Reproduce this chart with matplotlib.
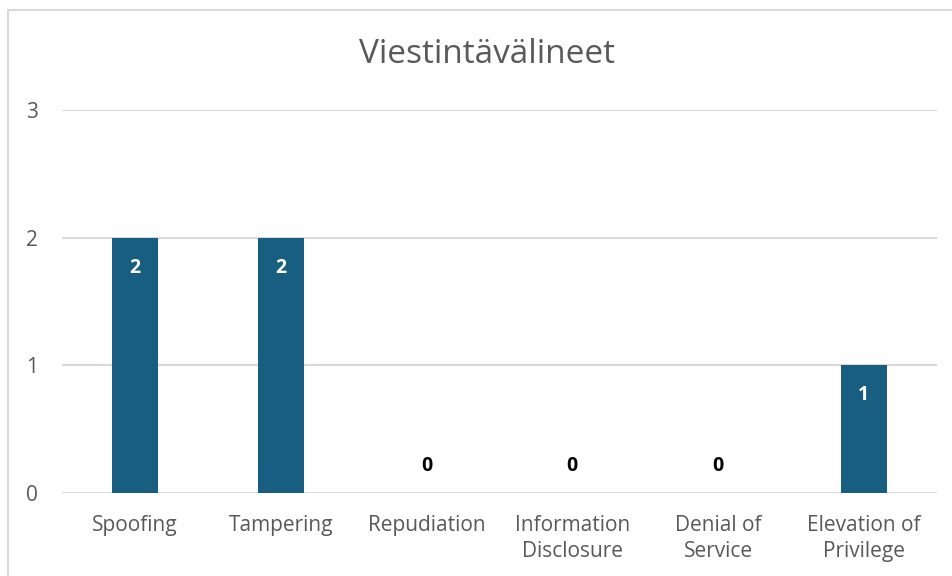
import matplotlib
matplotlib.use("Agg")
import matplotlib.pyplot as plt
from matplotlib.patches import Rectangle

categories = ["Spoofing", "Tampering", "Repudiation", "Information\nDisclosure",
              "Denial of\nService", "Elevation of\nPrivilege"]
values = [2, 2, 0, 0, 0, 1]
yticks = [0, 1, 2, 3]

plt.rcParams['font.family'] = ['Open Sans', 'DejaVu Sans']

fig = plt.figure(figsize=(9.53, 5.76), dpi=100)
ax = fig.add_axes([0.065, 0.144, 0.918, 0.665])

# outer chart border
fig.patches.append(Rectangle((8 / 953, -0.1), 1.2, 1 - 10 / 576 + 0.1,
                             transform=fig.transFigure, fill=False,
                             edgecolor='#d9d9d9', linewidth=1.5))

x = range(len(categories))
bars = ax.bar(x, values, width=0.315, color='#175e80', zorder=3)

for i, v in enumerate(values):
    if v > 0:
        ax.text(i, v - 0.235, str(v), ha='center', va='center', color='white',
                fontsize=14, fontweight='bold', zorder=4)
    else:
        ax.text(i, 0.21, str(v), ha='center', va='center', color='black',
                fontsize=14, fontweight='bold', zorder=4)

ax.set_xlim(-0.5, len(categories) - 0.5)
ax.set_ylim(0, 3)
ax.set_yticks(yticks)
ax.set_xticks(list(x))
ax.set_xticklabels(categories, fontsize=15, color='#595959', linespacing=1.3)
ax.tick_params(axis='y', labelsize=15, labelcolor='#595959', length=0, pad=17)
ax.tick_params(axis='x', length=0, pad=16)
ax.grid(axis='y', color='#d9d9d9', linewidth=1.5, zorder=0)
for s in ax.spines.values():
    s.set_visible(False)

fig.text(0.511, 0.905, "Viestintävälineet", ha='center', va='center',
         fontsize=24, color='#595959')

fig.savefig("out.png", dpi=100)
